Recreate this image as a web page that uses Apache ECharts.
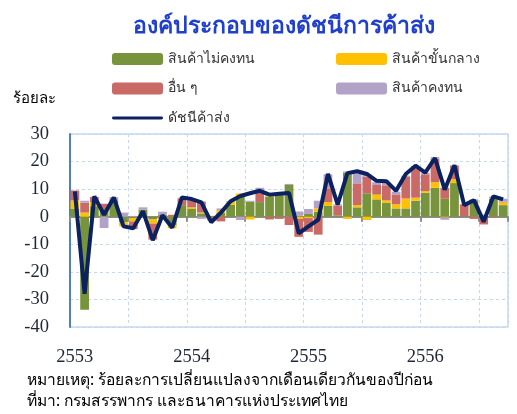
<!DOCTYPE html>
<html>
<head>
<meta charset="utf-8">
<script src="https://cdn.jsdelivr.net/npm/echarts@6/dist/echarts.min.js"></script>
<style>
html,body{margin:0;padding:0;background:#fff;}
#chart{width:517px;height:414px;}
</style>
</head>
<body>
<div id="chart"></div>
<script>
// เดือน ม.ค. 2553 - ก.ย. 2556
var months = [];
var yearLabels = ['2553','2554','2555','2556'];
for(var y=0;y<4;y++){
	for(var m=1;m<=12;m++){
		if(y==3 && m>9) break;
		months.push(yearLabels[y]+'-'+m);
	}
}
// สินค้าไม่คงทน
var nonDurable = [2.8,-33.7,3.8,2.8,5.8,-2.0,-0.5,2.6,-1.0,0.8,-3.0,4.2,
	2.8,1.2,0.3,1.5,4.3,7.2,5.5,5.3,7.3,8.0,11.5,0.3,
	1.0,1.8,3.9,0.5,16.0,3.4,8.5,6.3,5.0,3.0,3.0,5.8,
	8.7,10.5,6.5,12.2,0.2,6.0,0.5,6.5,4.2];
// สินค้าขั้นกลาง
var intermediate = [3.1,1.5,1.5,0,0,-1.5,-1.2,0,-1.5,0,-1.2,0,
	0.6,0.3,0,0.9,1.0,1.2,-1.0,0,0.3,0,0,-0.8,
	-0.5,1.2,1.4,0,-0.8,0.8,-1.2,1.7,0.9,1.5,3.6,1.1,
	0.6,2.0,-0.3,1.4,0,0,0,0.3,1.0];
// อื่น ๆ
var others = [3.6,3.6,1.9,1.9,0.5,0,-2.8,0,-5.8,-0.8,0.7,2.4,
	2.4,4.0,-0.5,-1.7,0,0,0,4.4,-1.0,-0.8,-3.0,-6.5,
	-5.0,-6.5,5.0,3.5,0,7.9,6.0,3.5,5.5,3.6,8.0,11.2,
	6.1,8.6,4.0,4.8,4.3,-0.8,-2.8,-0.4,0.3];
// สินค้าคงทน
var durable = [0,0.7,0,-4.1,0.8,1.5,0.3,0.8,0,1.0,0,0.3,
	0.3,-0.8,-0.8,0.6,0.3,-1.2,0.3,0.8,0.5,0.6,0.4,1.6,
	1.8,2.8,5.1,0.5,0.4,3.6,0.6,1.0,1.0,1.0,0.3,0.3,
	0.5,0.5,-0.8,0.3,0,0.3,0.3,0.5,1.0];
// ดัชนีค้าส่ง
var wholesale = [9.2,-28,7.4,0.7,7.0,-3.5,-4.2,2.0,-8.5,0.5,-4.0,7.0,
	6.4,5.2,-2.0,1.5,5.6,7.5,8.5,9.4,8.0,8.3,8.6,-6.0,
	-3.5,-1.1,15.5,4.4,15.8,16.5,15.5,13.0,12.9,9.4,15.5,18.5,
	16.0,21.3,9.8,18.7,4.2,6.0,-1.8,7.4,6.3];

var thaiFont = 'Tahoma, "Noto Sans", "DejaVu Sans", sans-serif';
var serifFont = '"Liberation Serif", "Times New Roman", serif';
var textColor = '#1F2738';

// ไอคอนเส้นในคำอธิบาย (มีจุดเล็กๆ บน-ล่างเพื่อคงความสูง)
var lineIcon = 'path://M0,0L0.01,0L0.01,0.01Z M1,4.5L50,4.5A1.5,1.5,0,0,1,50,7.5L1,7.5A1.5,1.5,0,0,1,1,4.5Z M0,12L0.01,12L0.01,11.99Z';

var chart = echarts.init(document.getElementById('chart'));

function barSeries(name, data, color){
	return {
		name: name,
		type: 'bar',
		stack: 'parts',
		data: data,
		barCategoryGap: '10%',
		itemStyle: {color: color},
		animation: false
	};
}

var option = {
	backgroundColor: '#fff',
	title: {
		text: 'องค์ประกอบของดัชนีการค้าส่ง',
		left: 128,
		top: 10,
		textStyle: {fontFamily: thaiFont, fontSize: 23, fontWeight: 'bold', color: '#1F3FCC'}
	},
	legend: [{
		left: 112, top: 51, orient: 'vertical', padding: 0,
		itemWidth: 51, itemHeight: 12, itemGap: 13.5,
		textStyle: {fontFamily: thaiFont, fontSize: 14, color: '#333', lineHeight: 16},
		data: ['สินค้าไม่คงทน','อื่น ๆ',{name: 'ดัชนีค้าส่ง', icon: lineIcon}]
	},{
		left: 336, top: 51, orient: 'vertical', padding: 0,
		itemWidth: 51, itemHeight: 12, itemGap: 13.5,
		textStyle: {fontFamily: thaiFont, fontSize: 14, color: '#333', lineHeight: 16},
		data: ['สินค้าขั้นกลาง','สินค้าคงทน']
	}],
	grid: {
		left: 70, right: 9, top: 134, bottom: 87,
		show: true, borderColor: '#A9C4E8', borderWidth: 1,
		containLabel: false
	},
	xAxis: [{
		type: 'category',
		data: months,
		axisLine: {onZero: true, lineStyle: {color: '#8C8C8C', width: 2}},
		axisTick: {show: true, interval: 5, length: 5, lineStyle: {color: '#8C8C8C', width: 2}},
		axisLabel: {show: false},
		splitLine: {show: true, interval: 5, lineStyle: {color: '#C5D8F0', type: [3,3]}}
	},{
		type: 'category',
		data: months,
		position: 'bottom',
		axisLine: {show: false},
		axisTick: {show: false},
		axisLabel: {
			interval: function(i){ return i % 12 == 0; },
			formatter: function(v){ return v.split('-')[0]; },
			margin: 21,
			fontFamily: serifFont, fontSize: 18.5, color: textColor
		}
	}],
	yAxis: {
		type: 'value',
		min: -40, max: 30, interval: 10,
		axisLine: {show: true, lineStyle: {color: '#4F81BD', width: 2}},
		axisTick: {show: false},
		axisLabel: {fontFamily: serifFont, fontSize: 18.5, color: textColor, margin: 21},
		splitLine: {lineStyle: {color: '#C5D8F0', type: [3,3]}}
	},
	graphic: [{
		type: 'text', left: 13, top: 91,
		style: {text: 'ร้อยละ', fontFamily: thaiFont, fontSize: 15, fill: '#000'}
	},{
		type: 'text', left: 27, top: 373,
		style: {text: 'หมายเหตุ: ร้อยละการเปลี่ยนแปลงจากเดือนเดียวกันของปีก่อน', fontFamily: thaiFont, fontSize: 15.6, fill: '#000'}
	},{
		type: 'text', left: 27, top: 394,
		style: {text: 'ที่มา: กรมสรรพากร และธนาคารแห่งประเทศไทย', fontFamily: thaiFont, fontSize: 15.6, fill: '#000'}
	}],
	series: [
		barSeries('สินค้าไม่คงทน', nonDurable, '#77933C'),
		barSeries('สินค้าขั้นกลาง', intermediate, '#FFC000'),
		barSeries('อื่น ๆ', others, '#C96A66'),
		barSeries('สินค้าคงทน', durable, '#B3A2C7'),
		{
			name: 'ดัชนีค้าส่ง',
			type: 'line',
			data: wholesale,
			symbol: 'none',
			lineStyle: {color: '#0B2160', width: 4},
			itemStyle: {color: '#0B2160'},
			z: 5,
			animation: false
		}
	]
};
chart.setOption(option);
</script>
</body>
</html>
